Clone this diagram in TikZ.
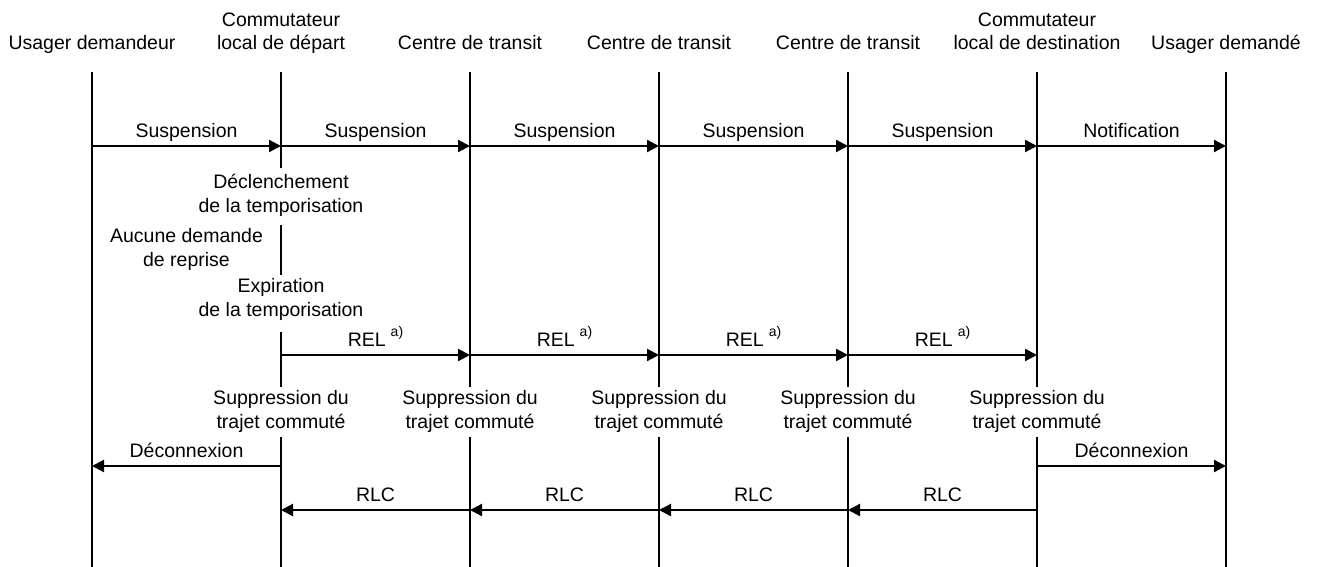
\documentclass[tikz,border=0pt]{standalone}
\usepackage{fontspec}
\setmainfont{Liberation Sans}
\usetikzlibrary{arrows.meta}
\newcommand{\twolines}[2]{\begin{tabular}[b]{@{}c@{}}#1\\#2\end{tabular}}
\newcommand{\relmsg}{REL\hspace{5pt}\raisebox{10pt}{\fontsize{14}{14}\selectfont a)}}
\begin{document}
\begin{tikzpicture}[x=1pt,y=-1pt,
  font=\fontsize{19.5}{23.5}\selectfont,
  life/.style={line width=2.2pt},
  msg/.style={line width=2.2pt,-{Triangle[length=12pt,width=12pt]}},
  lbl/.style={anchor=base,inner sep=0pt},
  mlbl/.style={lbl,midway,yshift=8.5pt}]
\useasboundingbox (0,0) rectangle (1319,567);
\foreach \i/\x in {1/92,2/281,3/470,4/659,5/848,6/1037,7/1226}{
  \coordinate (top\i) at (\x,72);
  \coordinate (bot\i) at (\x,567);
  \coordinate (sus\i) at (\x,146);
  \coordinate (rel\i) at (\x,355);
  \coordinate (dec\i) at (\x,466);
  \coordinate (rlc\i) at (\x,510);
  \coordinate (ga\i) at (\x,387);
  \coordinate (gb\i) at (\x,437);
}
\coordinate (g2a) at (281,168);
\coordinate (g2b) at (281,225);
\coordinate (g2c) at (281,275);
\coordinate (g2d) at (281,332);
% headers
\node[lbl] (h1) at (92,50) {Usager demandeur};
\node[lbl] (h2) at (281,50) {\twolines{Commutateur}{local de départ}};
\node[lbl] (h3) at (470,50) {Centre de transit};
\node[lbl] (h4) at (659,50) {Centre de transit};
\node[lbl] (h5) at (848,50) {Centre de transit};
\node[lbl] (h6) at (1037,50) {\twolines{Commutateur}{local de destination}};
\node[lbl] (h7) at (1226,50) {Usager demandé};
% lifelines
\draw[life] (top1) -- (bot1);
\draw[life] (top7) -- (bot7);
\draw[life] (top2) -- (g2a);
\draw[life] (g2b) -- (g2c);
\draw[life] (g2d) -- (ga2);
\draw[life] (gb2) -- (bot2);
\foreach \i in {3,4,5,6}{
  \draw[life] (top\i) -- (ga\i);
  \draw[life] (gb\i) -- (bot\i);
}
% messages
\foreach \a/\b in {1/2,2/3,3/4,4/5,5/6}
  \draw[msg] (sus\a) -- node[mlbl]{Suspension} (sus\b);
\draw[msg] (sus6) -- node[mlbl]{Notification} (sus7);
\foreach \a/\b in {2/3,3/4,4/5,5/6}
  \draw[msg] (rel\a) -- node[mlbl]{\relmsg} (rel\b);
\draw[msg] (dec2) -- node[mlbl]{Déconnexion} (dec1);
\draw[msg] (dec6) -- node[mlbl]{Déconnexion} (dec7);
\foreach \a/\b in {3/2,4/3,5/4,6/5}
  \draw[msg] (rlc\a) -- node[mlbl]{RLC} (rlc\b);
% annotations
\node[lbl] (t1) at (281,212) {\twolines{Déclenchement}{de la temporisation}};
\node[lbl] (t2) at (186.5,266) {\twolines{Aucune demande}{de reprise}};
\node[lbl] (t3) at (281,316) {\twolines{Expiration}{de la temporisation}};
\foreach \i/\x in {2/281,3/470,4/659,5/848,6/1037}
  \node[lbl] (sp\i) at (\x,428) {\twolines{Suppression du}{trajet commuté}};
\end{tikzpicture}
\end{document}
